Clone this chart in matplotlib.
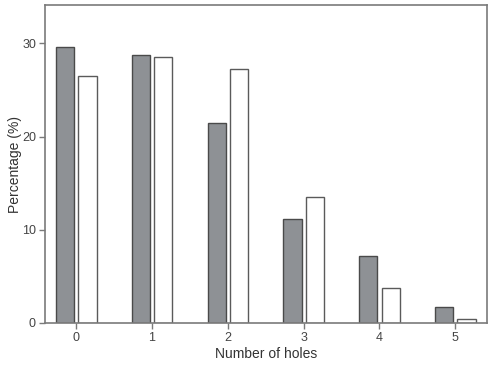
import numpy as np
import matplotlib.pyplot as plt

plt.rcParams['font.family'] = ['Liberation Sans', 'DejaVu Sans']

holes = [0, 1, 2, 3, 4, 5]
series_a = [29.6, 28.8, 21.5, 11.2, 7.2, 1.75]
series_b = [26.5, 28.5, 27.2, 13.5, 3.8, 0.4]

fig = plt.figure(figsize=(4.89, 3.66), dpi=100)
ax = fig.add_axes([0.092, 0.1175, 0.904, 0.8685])

x = np.arange(len(holes))
w = 0.24
ax.bar(x - 0.145, series_a, w, color='#8e9195', edgecolor='#4a4a4a', lw=1.0)
ax.bar(x + 0.15, series_b, w, color='white', edgecolor='#5a5a5a', lw=1.0)

ax.set_xlim(-0.41, 5.42)
ax.set_ylim(0, 34.1)
ax.set_xticks(x)
ax.set_xticklabels([str(h) for h in holes])
ax.set_yticks([0, 10, 20, 30])

for s in ax.spines.values():
    s.set_color('#7a7a7a')
    s.set_linewidth(1.2)

ax.tick_params(colors='#7a7a7a', labelcolor='#444444', labelsize=9,
               length=4, width=1, pad=2.5)
ax.set_xlabel('Number of holes', fontsize=10, color='#333333', labelpad=2)
ax.set_ylabel('Percentage (%)', fontsize=10, color='#333333')
ax.yaxis.set_label_coords(-0.053, 0.5)

fig.savefig('out.png', dpi=100)
